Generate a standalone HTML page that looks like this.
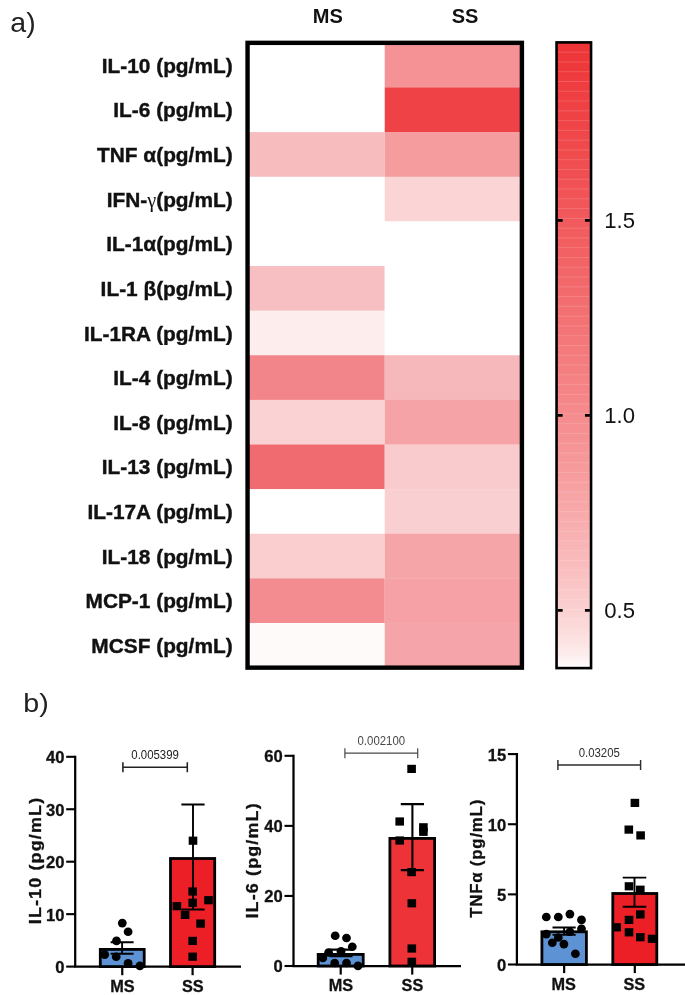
<!DOCTYPE html>
<html lang="en"><head><meta charset="utf-8"><title>Cytokine heatmap and bar charts</title>
<style>
html,body{margin:0;padding:0;background:#fff;}
body{width:685px;height:995px;overflow:hidden;}
svg{display:block;font-family:"Liberation Sans", Arial, Helvetica, sans-serif;}
text{filter:grayscale(1);}
</style></head><body>
<svg width="685" height="995" viewBox="0 0 685 995">
<rect width="685" height="995" fill="#fff"/>
<rect x="247.55" y="42.85" width="137.18" height="44.93" fill="#ffffff"/>
<rect x="384.73" y="42.85" width="137.18" height="44.93" fill="#f49296"/>
<rect x="247.55" y="87.48" width="137.18" height="44.93" fill="#ffffff"/>
<rect x="384.73" y="87.48" width="137.18" height="44.93" fill="#ee4246"/>
<rect x="247.55" y="132.11" width="137.18" height="44.93" fill="#f7bcbe"/>
<rect x="384.73" y="132.11" width="137.18" height="44.93" fill="#f59c9f"/>
<rect x="247.55" y="176.74" width="137.18" height="44.93" fill="#ffffff"/>
<rect x="384.73" y="176.74" width="137.18" height="44.93" fill="#fbd5d6"/>
<rect x="247.55" y="221.36" width="137.18" height="44.93" fill="#ffffff"/>
<rect x="384.73" y="221.36" width="137.18" height="44.93" fill="#ffffff"/>
<rect x="247.55" y="265.99" width="137.18" height="44.93" fill="#f7bfc1"/>
<rect x="384.73" y="265.99" width="137.18" height="44.93" fill="#ffffff"/>
<rect x="247.55" y="310.62" width="137.18" height="44.93" fill="#fdeded"/>
<rect x="384.73" y="310.62" width="137.18" height="44.93" fill="#ffffff"/>
<rect x="247.55" y="355.25" width="137.18" height="44.93" fill="#f28589"/>
<rect x="384.73" y="355.25" width="137.18" height="44.93" fill="#f7b8bb"/>
<rect x="247.55" y="399.88" width="137.18" height="44.93" fill="#fad2d4"/>
<rect x="384.73" y="399.88" width="137.18" height="44.93" fill="#f5a3a7"/>
<rect x="247.55" y="444.51" width="137.18" height="44.93" fill="#f06b70"/>
<rect x="384.73" y="444.51" width="137.18" height="44.93" fill="#f9cbcd"/>
<rect x="247.55" y="489.14" width="137.18" height="44.93" fill="#ffffff"/>
<rect x="384.73" y="489.14" width="137.18" height="44.93" fill="#f9cfd1"/>
<rect x="247.55" y="533.76" width="137.18" height="44.93" fill="#facdcf"/>
<rect x="384.73" y="533.76" width="137.18" height="44.93" fill="#f5a4a8"/>
<rect x="247.55" y="578.39" width="137.18" height="44.93" fill="#f38c90"/>
<rect x="384.73" y="578.39" width="137.18" height="44.93" fill="#f5a1a5"/>
<rect x="247.55" y="623.02" width="137.18" height="44.93" fill="#fefafa"/>
<rect x="384.73" y="623.02" width="137.18" height="44.93" fill="#f5a5a9"/>
<rect x="247.55" y="42.85" width="274.35" height="624.8" fill="none" stroke="#000" stroke-width="4.4"/>
<text x="232.6" y="72.76" text-anchor="end" font-size="20.85" font-weight="700" fill="#111" stroke="#111" stroke-width="0.4">IL-10 (pg/mL)</text>
<text x="232.6" y="117.39" text-anchor="end" font-size="20.85" font-weight="700" fill="#111" stroke="#111" stroke-width="0.4">IL-6 (pg/mL)</text>
<text x="232.6" y="162.02" text-anchor="end" font-size="20.85" font-weight="700" fill="#111" stroke="#111" stroke-width="0.4">TNF α(pg/mL)</text>
<text x="232.6" y="206.65" text-anchor="end" font-size="20.85" font-weight="700" fill="#111" stroke="#111" stroke-width="0.4">IFN-<tspan font-weight="400" font-family="'Liberation Serif', serif" font-size="20.3" stroke="none">γ</tspan>(pg/mL)</text>
<text x="232.6" y="251.28" text-anchor="end" font-size="20.85" font-weight="700" fill="#111" stroke="#111" stroke-width="0.4">IL-1α(pg/mL)</text>
<text x="232.6" y="295.91" text-anchor="end" font-size="20.85" font-weight="700" fill="#111" stroke="#111" stroke-width="0.4">IL-1 β(pg/mL)</text>
<text x="232.6" y="340.54" text-anchor="end" font-size="20.85" font-weight="700" fill="#111" stroke="#111" stroke-width="0.4">IL-1RA (pg/mL)</text>
<text x="232.6" y="385.16" text-anchor="end" font-size="20.85" font-weight="700" fill="#111" stroke="#111" stroke-width="0.4">IL-4 (pg/mL)</text>
<text x="232.6" y="429.79" text-anchor="end" font-size="20.85" font-weight="700" fill="#111" stroke="#111" stroke-width="0.4">IL-8 (pg/mL)</text>
<text x="232.6" y="474.42" text-anchor="end" font-size="20.85" font-weight="700" fill="#111" stroke="#111" stroke-width="0.4">IL-13 (pg/mL)</text>
<text x="232.6" y="519.05" text-anchor="end" font-size="20.85" font-weight="700" fill="#111" stroke="#111" stroke-width="0.4">IL-17A (pg/mL)</text>
<text x="232.6" y="563.68" text-anchor="end" font-size="20.85" font-weight="700" fill="#111" stroke="#111" stroke-width="0.4">IL-18 (pg/mL)</text>
<text x="232.6" y="608.31" text-anchor="end" font-size="20.85" font-weight="700" fill="#111" stroke="#111" stroke-width="0.4">MCP-1 (pg/mL)</text>
<text x="232.6" y="652.94" text-anchor="end" font-size="20.85" font-weight="700" fill="#111" stroke="#111" stroke-width="0.4">MCSF (pg/mL)</text>
<text x="327.8" y="23.4" text-anchor="middle" font-size="20" font-weight="700" fill="#111">MS</text>
<text x="465" y="23.4" text-anchor="middle" font-size="20" font-weight="700" fill="#111">SS</text>
<text x="10.3" y="31.8" font-size="28.5" fill="#222">a)</text>
<text transform="translate(23.3,711.8) scale(1.09,1)" font-size="26.3" fill="#222">b)</text>
<defs><linearGradient id="cb" x1="0" y1="0" x2="0" y2="1"><stop offset="0.0000" stop-color="rgb(238,52,55)"/><stop offset="0.0208" stop-color="rgb(238,55,58)"/><stop offset="0.0417" stop-color="rgb(238,57,60)"/><stop offset="0.0625" stop-color="rgb(239,60,63)"/><stop offset="0.0833" stop-color="rgb(239,63,66)"/><stop offset="0.1042" stop-color="rgb(239,65,68)"/><stop offset="0.1250" stop-color="rgb(239,68,71)"/><stop offset="0.1458" stop-color="rgb(240,71,74)"/><stop offset="0.1667" stop-color="rgb(240,74,76)"/><stop offset="0.1875" stop-color="rgb(240,77,79)"/><stop offset="0.2083" stop-color="rgb(240,79,82)"/><stop offset="0.2292" stop-color="rgb(241,82,85)"/><stop offset="0.2500" stop-color="rgb(241,85,88)"/><stop offset="0.2708" stop-color="rgb(241,88,91)"/><stop offset="0.2917" stop-color="rgb(241,91,93)"/><stop offset="0.3125" stop-color="rgb(242,94,96)"/><stop offset="0.3333" stop-color="rgb(242,97,99)"/><stop offset="0.3542" stop-color="rgb(242,100,102)"/><stop offset="0.3750" stop-color="rgb(242,103,106)"/><stop offset="0.3958" stop-color="rgb(243,106,109)"/><stop offset="0.4167" stop-color="rgb(243,110,112)"/><stop offset="0.4375" stop-color="rgb(243,113,115)"/><stop offset="0.4583" stop-color="rgb(243,116,118)"/><stop offset="0.4792" stop-color="rgb(244,120,122)"/><stop offset="0.5000" stop-color="rgb(244,123,125)"/><stop offset="0.5208" stop-color="rgb(244,126,128)"/><stop offset="0.5417" stop-color="rgb(245,130,132)"/><stop offset="0.5625" stop-color="rgb(245,133,135)"/><stop offset="0.5833" stop-color="rgb(245,137,139)"/><stop offset="0.6042" stop-color="rgb(245,141,142)"/><stop offset="0.6250" stop-color="rgb(246,144,146)"/><stop offset="0.6458" stop-color="rgb(246,148,150)"/><stop offset="0.6667" stop-color="rgb(246,152,154)"/><stop offset="0.6875" stop-color="rgb(247,156,158)"/><stop offset="0.7083" stop-color="rgb(247,160,162)"/><stop offset="0.7292" stop-color="rgb(247,165,166)"/><stop offset="0.7500" stop-color="rgb(248,169,170)"/><stop offset="0.7708" stop-color="rgb(248,174,175)"/><stop offset="0.7917" stop-color="rgb(249,178,179)"/><stop offset="0.8125" stop-color="rgb(249,183,184)"/><stop offset="0.8333" stop-color="rgb(249,188,189)"/><stop offset="0.8542" stop-color="rgb(250,193,194)"/><stop offset="0.8750" stop-color="rgb(250,199,200)"/><stop offset="0.8958" stop-color="rgb(251,205,206)"/><stop offset="0.9167" stop-color="rgb(251,212,212)"/><stop offset="0.9375" stop-color="rgb(252,219,219)"/><stop offset="0.9583" stop-color="rgb(253,227,227)"/><stop offset="0.9792" stop-color="rgb(253,237,237)"/><stop offset="1.0000" stop-color="rgb(255,255,255)"/></linearGradient></defs>
<rect x="556.55" y="42.4" width="34.50" height="625.70" fill="url(#cb)"/>
<path d="M556.55 52.18H591.05M556.55 61.95H591.05M556.55 71.73H591.05M556.55 81.51H591.05M556.55 91.28H591.05M556.55 101.06H591.05M556.55 110.84H591.05M556.55 120.61H591.05M556.55 130.39H591.05M556.55 140.17H591.05M556.55 149.94H591.05M556.55 159.72H591.05M556.55 169.50H591.05M556.55 179.27H591.05M556.55 189.05H591.05M556.55 198.83H591.05M556.55 208.60H591.05M556.55 218.38H591.05M556.55 228.15H591.05M556.55 237.93H591.05M556.55 247.71H591.05M556.55 257.48H591.05M556.55 267.26H591.05M556.55 277.04H591.05M556.55 286.81H591.05M556.55 296.59H591.05M556.55 306.37H591.05M556.55 316.14H591.05M556.55 325.92H591.05M556.55 335.70H591.05M556.55 345.47H591.05M556.55 355.25H591.05M556.55 365.03H591.05M556.55 374.80H591.05M556.55 384.58H591.05M556.55 394.36H591.05M556.55 404.13H591.05M556.55 413.91H591.05M556.55 423.69H591.05M556.55 433.46H591.05M556.55 443.24H591.05M556.55 453.02H591.05M556.55 462.79H591.05M556.55 472.57H591.05M556.55 482.35H591.05M556.55 492.12H591.05M556.55 501.90H591.05M556.55 511.68H591.05M556.55 521.45H591.05M556.55 531.23H591.05M556.55 541.00H591.05M556.55 550.78H591.05M556.55 560.56H591.05M556.55 570.33H591.05M556.55 580.11H591.05M556.55 589.89H591.05M556.55 599.66H591.05M556.55 609.44H591.05M556.55 619.22H591.05M556.55 628.99H591.05M556.55 638.77H591.05M556.55 648.55H591.05M556.55 658.32H591.05" stroke="#fff" stroke-opacity="0.22" stroke-width="0.7" fill="none"/>
<rect x="556.55" y="42.4" width="34.5" height="625.7" fill="none" stroke="#000" stroke-width="2.6"/>
<path d="M557.75 220.4h4.9M589.85 220.4h-4.9" stroke="#000" stroke-width="2.6" fill="none"/>
<text transform="translate(604.2,228.00) scale(0.975,1)" font-size="22.7" fill="#111">1.5</text>
<path d="M557.75 415.4h4.9M589.85 415.4h-4.9" stroke="#000" stroke-width="2.6" fill="none"/>
<text transform="translate(604.2,423.00) scale(0.975,1)" font-size="22.7" fill="#111">1.0</text>
<path d="M557.75 610.4h4.9M589.85 610.4h-4.9" stroke="#000" stroke-width="2.6" fill="none"/>
<text transform="translate(604.2,618.00) scale(0.975,1)" font-size="22.7" fill="#111">0.5</text>
<path d="M75.2 755.70V966.6H241" fill="none" stroke="#000" stroke-width="2.25" stroke-linejoin="miter"/>
<path d="M75.2 966.60h-9" stroke="#000" stroke-width="2.1"/>
<text x="64.50" y="973.00" text-anchor="end" font-size="16.6" font-weight="700" fill="#111" stroke="#111" stroke-width="0.3">0</text>
<path d="M75.2 914.15h-9" stroke="#000" stroke-width="2.1"/>
<text x="64.50" y="920.55" text-anchor="end" font-size="16.6" font-weight="700" fill="#111" stroke="#111" stroke-width="0.3">10</text>
<path d="M75.2 861.70h-9" stroke="#000" stroke-width="2.1"/>
<text x="64.50" y="868.10" text-anchor="end" font-size="16.6" font-weight="700" fill="#111" stroke="#111" stroke-width="0.3">20</text>
<path d="M75.2 809.25h-9" stroke="#000" stroke-width="2.1"/>
<text x="64.50" y="815.65" text-anchor="end" font-size="16.6" font-weight="700" fill="#111" stroke="#111" stroke-width="0.3">30</text>
<path d="M75.2 756.80h-9" stroke="#000" stroke-width="2.1"/>
<text x="64.50" y="763.20" text-anchor="end" font-size="16.6" font-weight="700" fill="#111" stroke="#111" stroke-width="0.3">40</text>
<rect x="100.30" y="949.40" width="43.90" height="17.20" fill="#5d93d4" stroke="#000" stroke-width="2.8"/>
<rect x="170.50" y="858.50" width="44.20" height="108.10" fill="#ec1f27" stroke="#000" stroke-width="2.8"/>
<path d="M122.25 966.6v8.6" stroke="#000" stroke-width="2.2"/>
<text x="122.45" y="991.9" text-anchor="middle" font-size="16.3" font-weight="700" fill="#111" stroke="#111" stroke-width="0.3">MS</text>
<path d="M192.60 966.6v8.6" stroke="#000" stroke-width="2.2"/>
<text x="192.80" y="991.9" text-anchor="middle" font-size="16.3" font-weight="700" fill="#111" stroke="#111" stroke-width="0.3">SS</text>
<path d="M122.1 942.2V953.8M110.6 942.2h23.0M110.6 953.8h23.0" stroke="#000" stroke-width="1.9" fill="none"/>
<path d="M193.0 804.5V909.5M181.4 804.5h23.2M181.4 909.5h23.2" stroke="#000" stroke-width="1.9" fill="none"/>
<ellipse cx="122.3" cy="923.1" rx="4.4" ry="4.3" fill="#000"/>
<ellipse cx="128.1" cy="931.7" rx="4.4" ry="4.3" fill="#000"/>
<ellipse cx="116.5" cy="940.9" rx="4.4" ry="4.3" fill="#000"/>
<ellipse cx="104.7" cy="954.6" rx="4.4" ry="4.3" fill="#000"/>
<ellipse cx="116.2" cy="956.7" rx="4.4" ry="4.3" fill="#000"/>
<ellipse cx="128.1" cy="963.3" rx="4.4" ry="4.3" fill="#000"/>
<ellipse cx="139.9" cy="965.9" rx="4.4" ry="4.3" fill="#000"/>
<rect x="188.70" y="836.60" width="8.6" height="8.2" fill="#000"/>
<rect x="188.40" y="887.40" width="8.6" height="8.2" fill="#000"/>
<rect x="204.20" y="896.10" width="8.6" height="8.2" fill="#000"/>
<rect x="188.40" y="898.70" width="8.6" height="8.2" fill="#000"/>
<rect x="172.60" y="902.10" width="8.6" height="8.2" fill="#000"/>
<rect x="180.80" y="910.80" width="8.6" height="8.2" fill="#000"/>
<rect x="196.30" y="919.50" width="8.6" height="8.2" fill="#000"/>
<rect x="188.40" y="936.80" width="8.6" height="8.2" fill="#000"/>
<rect x="188.40" y="952.60" width="8.6" height="8.2" fill="#000"/>
<path d="M122.9 767.3H187.3M122.9 762.3v10M187.3 762.3v10" stroke="#222" stroke-width="1.55" fill="none"/>
<text transform="translate(155.10,759.00) scale(0.865,1)" text-anchor="middle" font-size="13.2" fill="#222">0.005399</text>
<text transform="translate(40.8,860.5) rotate(-90) scale(1.1,1)" text-anchor="middle" font-size="16.3" letter-spacing="1.05" font-weight="700" fill="#111" stroke="#111" stroke-width="0.3">IL-10 (pg/mL)</text>
<path d="M293.5 754.70V966.0H461" fill="none" stroke="#000" stroke-width="2.25" stroke-linejoin="miter"/>
<path d="M293.5 966.00h-9" stroke="#000" stroke-width="2.1"/>
<text x="282.80" y="972.40" text-anchor="end" font-size="16.6" font-weight="700" fill="#111" stroke="#111" stroke-width="0.3">0</text>
<path d="M293.5 895.93h-9" stroke="#000" stroke-width="2.1"/>
<text x="282.80" y="902.33" text-anchor="end" font-size="16.6" font-weight="700" fill="#111" stroke="#111" stroke-width="0.3">20</text>
<path d="M293.5 825.87h-9" stroke="#000" stroke-width="2.1"/>
<text x="282.80" y="832.27" text-anchor="end" font-size="16.6" font-weight="700" fill="#111" stroke="#111" stroke-width="0.3">40</text>
<path d="M293.5 755.80h-9" stroke="#000" stroke-width="2.1"/>
<text x="282.80" y="762.20" text-anchor="end" font-size="16.6" font-weight="700" fill="#111" stroke="#111" stroke-width="0.3">60</text>
<rect x="318.20" y="954.40" width="45.00" height="11.60" fill="#5d93d4" stroke="#000" stroke-width="2.8"/>
<rect x="389.90" y="838.40" width="44.70" height="127.60" fill="#ee3338" stroke="#000" stroke-width="2.8"/>
<path d="M340.70 966.0v8.6" stroke="#000" stroke-width="2.2"/>
<text x="340.90" y="991.4" text-anchor="middle" font-size="16.3" font-weight="700" fill="#111" stroke="#111" stroke-width="0.3">MS</text>
<path d="M412.25 966.0v8.6" stroke="#000" stroke-width="2.2"/>
<text x="412.45" y="991.4" text-anchor="middle" font-size="16.3" font-weight="700" fill="#111" stroke="#111" stroke-width="0.3">SS</text>
<path d="M341.0 949.6V956.3M329.5 949.6h23.0M329.5 956.3h23.0" stroke="#000" stroke-width="2.1" fill="none"/>
<path d="M412.4 804.1V870.1M400.79999999999995 804.1h23.2M400.79999999999995 870.1h23.2" stroke="#000" stroke-width="2.1" fill="none"/>
<ellipse cx="335.2" cy="935.7" rx="4.4" ry="4.3" fill="#000"/>
<ellipse cx="346.5" cy="938.0" rx="4.4" ry="4.3" fill="#000"/>
<ellipse cx="352.3" cy="946.7" rx="4.4" ry="4.3" fill="#000"/>
<ellipse cx="341.0" cy="951.4" rx="4.4" ry="4.3" fill="#000"/>
<ellipse cx="328.6" cy="952.5" rx="4.4" ry="4.3" fill="#000"/>
<ellipse cx="322.8" cy="958.0" rx="4.4" ry="4.3" fill="#000"/>
<ellipse cx="334.7" cy="963.0" rx="4.4" ry="4.3" fill="#000"/>
<ellipse cx="346.5" cy="963.0" rx="4.4" ry="4.3" fill="#000"/>
<ellipse cx="358.0" cy="965.9" rx="4.4" ry="4.3" fill="#000"/>
<rect x="407.30" y="764.80" width="8.6" height="8.2" fill="#000"/>
<rect x="395.40" y="817.40" width="8.6" height="8.2" fill="#000"/>
<rect x="419.10" y="823.20" width="8.6" height="8.2" fill="#000"/>
<rect x="419.10" y="827.70" width="8.6" height="8.2" fill="#000"/>
<rect x="395.40" y="836.40" width="8.6" height="8.2" fill="#000"/>
<rect x="407.30" y="868.00" width="8.6" height="8.2" fill="#000"/>
<rect x="407.50" y="899.20" width="8.6" height="8.2" fill="#000"/>
<rect x="407.50" y="944.40" width="8.6" height="8.2" fill="#000"/>
<rect x="407.50" y="957.70" width="8.6" height="8.2" fill="#000"/>
<path d="M344.9 753.2H417.7M344.9 748.2v10M417.7 748.2v10" stroke="#484848" stroke-width="1.2" fill="none"/>
<text transform="translate(381.30,744.90) scale(0.865,1)" text-anchor="middle" font-size="13.2" fill="#484848">0.002100</text>
<text transform="translate(257.9,860.4) rotate(-90) scale(1.1,1)" text-anchor="middle" font-size="16.3" letter-spacing="1.05" font-weight="700" fill="#111" stroke="#111" stroke-width="0.3">IL-6 (pg/mL)</text>
<path d="M516.9 753.00V964.5H685" fill="none" stroke="#000" stroke-width="2.25" stroke-linejoin="miter"/>
<path d="M516.9 964.50h-9" stroke="#000" stroke-width="2.1"/>
<text x="506.20" y="970.90" text-anchor="end" font-size="16.6" font-weight="700" fill="#111" stroke="#111" stroke-width="0.3">0</text>
<path d="M516.9 894.37h-9" stroke="#000" stroke-width="2.1"/>
<text x="506.20" y="900.77" text-anchor="end" font-size="16.6" font-weight="700" fill="#111" stroke="#111" stroke-width="0.3">5</text>
<path d="M516.9 824.23h-9" stroke="#000" stroke-width="2.1"/>
<text x="506.20" y="830.63" text-anchor="end" font-size="16.6" font-weight="700" fill="#111" stroke="#111" stroke-width="0.3">10</text>
<path d="M516.9 754.10h-9" stroke="#000" stroke-width="2.1"/>
<text x="506.20" y="760.50" text-anchor="end" font-size="16.6" font-weight="700" fill="#111" stroke="#111" stroke-width="0.3">15</text>
<rect x="541.90" y="931.80" width="44.50" height="32.70" fill="#5d93d4" stroke="#000" stroke-width="2.8"/>
<rect x="612.80" y="893.50" width="44.00" height="71.00" fill="#ec1f27" stroke="#000" stroke-width="2.8"/>
<path d="M564.15 964.5v8.6" stroke="#000" stroke-width="2.2"/>
<text x="563.65" y="989.7" text-anchor="middle" font-size="16.3" font-weight="700" fill="#111" stroke="#111" stroke-width="0.3">MS</text>
<path d="M634.80 964.5v8.6" stroke="#000" stroke-width="2.2"/>
<text x="634.30" y="989.7" text-anchor="middle" font-size="16.3" font-weight="700" fill="#111" stroke="#111" stroke-width="0.3">SS</text>
<path d="M564.1 927.5V934.9M552.5 927.5h23.2M552.5 934.9h23.2" stroke="#000" stroke-width="1.9" fill="none"/>
<path d="M634.5 877.6V906.8M622.7 877.6h23.6M622.7 906.8h23.6" stroke="#000" stroke-width="1.9" fill="none"/>
<ellipse cx="546.3" cy="917.0" rx="4.4" ry="4.3" fill="#000"/>
<ellipse cx="558.3" cy="917.0" rx="4.4" ry="4.3" fill="#000"/>
<ellipse cx="569.9" cy="914.1" rx="4.4" ry="4.3" fill="#000"/>
<ellipse cx="581.5" cy="919.9" rx="4.4" ry="4.3" fill="#000"/>
<ellipse cx="581.5" cy="928.8" rx="4.4" ry="4.3" fill="#000"/>
<ellipse cx="546.3" cy="934.1" rx="4.4" ry="4.3" fill="#000"/>
<ellipse cx="569.9" cy="931.7" rx="4.4" ry="4.3" fill="#000"/>
<ellipse cx="558.3" cy="937.5" rx="4.4" ry="4.3" fill="#000"/>
<ellipse cx="552.3" cy="942.8" rx="4.4" ry="4.3" fill="#000"/>
<ellipse cx="563.9" cy="944.1" rx="4.4" ry="4.3" fill="#000"/>
<ellipse cx="575.4" cy="953.8" rx="4.4" ry="4.3" fill="#000"/>
<rect x="630.60" y="798.80" width="8.6" height="8.2" fill="#000"/>
<rect x="624.50" y="825.50" width="8.6" height="8.2" fill="#000"/>
<rect x="636.30" y="831.30" width="8.6" height="8.2" fill="#000"/>
<rect x="624.70" y="882.20" width="8.6" height="8.2" fill="#000"/>
<rect x="636.00" y="885.60" width="8.6" height="8.2" fill="#000"/>
<rect x="636.00" y="910.30" width="8.6" height="8.2" fill="#000"/>
<rect x="624.70" y="915.80" width="8.6" height="8.2" fill="#000"/>
<rect x="612.40" y="923.20" width="8.6" height="8.2" fill="#000"/>
<rect x="624.70" y="928.20" width="8.6" height="8.2" fill="#000"/>
<rect x="636.00" y="933.10" width="8.6" height="8.2" fill="#000"/>
<rect x="647.80" y="934.70" width="8.6" height="8.2" fill="#000"/>
<path d="M557.9 764.9H640.6M557.9 759.9v10M640.6 759.9v10" stroke="#2e2e2e" stroke-width="1.45" fill="none"/>
<text transform="translate(599.25,756.60) scale(0.865,1)" text-anchor="middle" font-size="13.2" fill="#2e2e2e">0.03205</text>
<text transform="translate(481.9,858.4) rotate(-90) scale(1.03,1)" text-anchor="middle" font-size="16.3" letter-spacing="0.8" font-weight="700" fill="#111" stroke="#111" stroke-width="0.3">TNFα (pg/mL)</text>
</svg>
</body></html>
